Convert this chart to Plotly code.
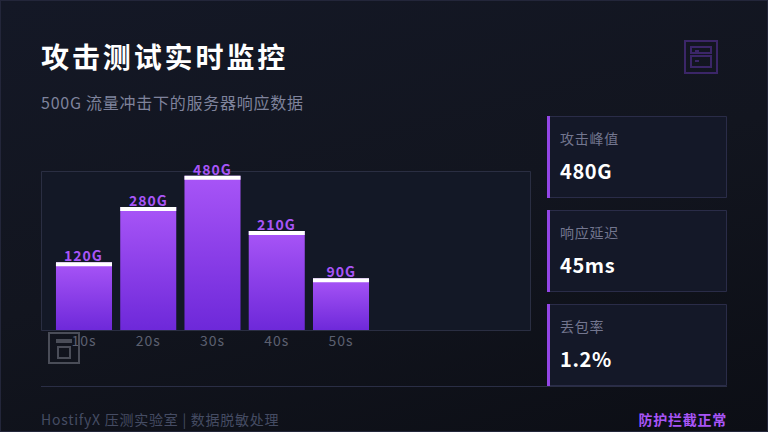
import plotly.graph_objects as go

categories = ["10s", "20s", "30s", "40s", "50s"]
traffic_labels = ["120G", "280G", "480G", "210G", "90G"]
# bar heights as drawn, in percent of the chart box (they are not proportional to the labels)
bar_heights = [43, 77.5, 97, 62.5, 33]
cap_size = 2.5
metric_names = ["攻击峰值", "响应延迟", "丢包率"]
metric_values = ["480G", "45ms", "1.2%"]

FONT = "Noto Sans CJK SC"
L, T, W, H = 41, 171, 490, 160
def px(x): return (x - L) / W
def py(y): return 1 - (y - T) / H

def text(x, y, s, size, color, anchor="left", weight=400):
    return dict(xref="paper", yref="paper", x=px(x), y=py(y), text=s,
                showarrow=False, xanchor=anchor, yanchor="middle", align=anchor,
                borderpad=0, font=dict(family=FONT, size=size, color=color, weight=weight))

def rect(x0, y0, x1, y1, line=None, fill=None, width=1):
    return dict(type="rect", xref="paper", yref="paper", x0=px(x0), x1=px(x1), y0=py(y0), y1=py(y1),
                line=dict(color=line or "rgba(0,0,0,0)", width=width if line else 0),
                fillcolor=fill or "rgba(0,0,0,0)", layer="above")

fig = go.Figure()
fig.add_bar(x=categories, y=bar_heights, marker=dict(color="#8b3fe8", line_width=0), name="body")
fig.add_bar(x=categories, y=[cap_size] * 5, base=[h - cap_size for h in bar_heights],
            marker=dict(color="#ffffff", line_width=0), name="cap")

annotations = [
    text(40, 56, "攻击测试实时监控", 28, "#ffffff", weight=700),
    text(40, 102.5, "500G 流量冲击下的服务器响应数据", 16, "#7f839c"),
    text(40, 419, "HostifyX 压测实验室 | 数据脱敏处理", 14, "#454c63"),
    text(728, 419, "防护拦截正常", 14, "#a855f7", anchor="right", weight=700),
]
for cat, h, lab in zip(categories, bar_heights, traffic_labels):
    annotations.append(dict(xref="x", yref="y", x=cat, y=h, text=lab, showarrow=False,
                            yanchor="bottom", yshift=-4, borderpad=0,
                            font=dict(family=FONT, size=14, color="#a855f7", weight=600)))

shapes = [rect(41.5, 171.5, 530.5, 330.5, line="#2a2e42"),
          rect(41, 386, 727, 387, fill="#2a2e45")]
for i, (name, val) in enumerate(zip(metric_names, metric_values)):
    top = 116 + 94 * i
    shapes.append(rect(547.5, top + .5, 726.5, top + 81.5, line="#2a2c48", fill="#141828"))
    shapes.append(rect(547, top, 550, top + 82, fill="#9346e6"))
    annotations.append(text(559, top + 22, name, 14, "#73768f"))
    annotations.append(text(559, top + 54.5, val, 20, "#ffffff", weight=600))

# decorative icons
ICON_G = "#4a4d58"
shapes += [rect(49, 333, 79, 363, line=ICON_G, width=2),
           rect(56, 339, 72, 343, fill=ICON_G),
           rect(58, 347, 70, 358, line=ICON_G, width=2)]
ICON_P = "#3b2668"
shapes += [rect(685, 41, 717, 73, line=ICON_P, width=2),
           rect(691, 47, 711, 53, line=ICON_P, width=2),
           rect(691, 56, 711, 67, line=ICON_P, width=2),
           rect(695, 50, 699, 52, fill=ICON_P),
           rect(695, 60, 699, 62, fill=ICON_P)]

fig.update_layout(
    width=768, height=432, autosize=False,
    margin=dict(l=L, r=768 - L - W, t=T, b=432 - T - H, pad=0),
    paper_bgcolor="rgba(0,0,0,0)", plot_bgcolor="#131826",
    barmode="overlay", bargap=0.128, showlegend=False,
    font=dict(family=FONT),
    xaxis=dict(type="category", categoryorder="array", categoryarray=categories,
               range=[-0.669, 6.957], showgrid=False, zeroline=False, showline=False, ticks="",
               tickfont=dict(family=FONT, size=14, color="#5c6070"), ticklabelstandoff=0),
    yaxis=dict(range=[0, 100], showgrid=False, zeroline=False, showline=False, showticklabels=False, ticks=""),
    annotations=annotations, shapes=shapes,
)

post = r"""
var ns='http://www.w3.org/2000/svg';
document.documentElement.style.background='#0d1017';
document.body.style.margin='0';
document.body.style.background='linear-gradient(165deg,#141826 0%,#12151f 50%,#0c0e15 100%)';
document.body.style.width='768px';document.body.style.height='432px';document.body.style.overflow='hidden';
var svg=document.querySelector('.main-svg');
var defs=svg.querySelector('defs');
var g=document.createElementNS(ns,'linearGradient');
g.setAttribute('id','barGrad');g.setAttribute('x1','0');g.setAttribute('x2','0');g.setAttribute('y1','0');g.setAttribute('y2','1');
[['0','#a855f7'],['1','#6d28d9']].forEach(function(s){var e=document.createElementNS(ns,'stop');e.setAttribute('offset',s[0]);e.setAttribute('stop-color',s[1]);g.appendChild(e);});
defs.appendChild(g);
var tr=document.querySelectorAll('.barlayer .trace')[0];
tr.querySelectorAll('path').forEach(function(p){p.style.fill='url(#barGrad)';});
document.querySelectorAll('.annotation-text').forEach(function(t){
  var s=t.textContent,fs=parseFloat(t.style.fontSize);
  var sp=fs>=28?2.9:(fs==20?0.6:(fs==16?0.75:(/G$/.test(s)&&s.length<5?1:0.75)));
  t.style.letterSpacing=sp+'px';
});
document.querySelectorAll('.xtick text').forEach(function(t){t.style.letterSpacing='1px';});
var b=document.createElement('div');
b.style.cssText='position:fixed;left:0;top:0;width:768px;height:432px;box-sizing:border-box;border:1px solid #23263a;pointer-events:none';
document.body.appendChild(b);
"""
fig.write_html("out.html", post_script=post, config={"displayModeBar": False})
